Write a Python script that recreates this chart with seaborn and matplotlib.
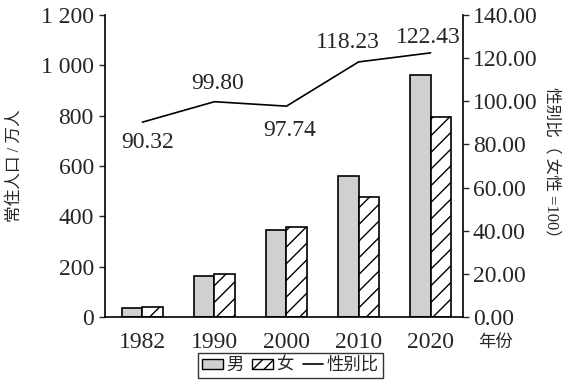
import matplotlib
matplotlib.use("Agg")
import matplotlib.pyplot as plt
import seaborn as sns
import pandas as pd
import numpy as np
from matplotlib.patches import Patch
from matplotlib.lines import Line2D

# ---- data ----
years = ["1982", "1990", "2000", "2010", "2020"]
male = [38, 162, 346, 560, 962]
female = [42, 170, 358, 478, 795]
sex_ratio = [90.32, 99.80, 97.74, 118.23, 122.43]
left_ticks = [0, 200, 400, 600, 800, 1000, 1200]
left_tick_labels = ["0", "200", "400", "600", "800", "1 000", "1 200"]
right_ticks = [0, 20, 40, 60, 80, 100, 120, 140]
right_tick_labels = ["0.00", "20.00", "40.00", "60.00", "80.00", "100.00", "120.00", "140.00"]
sex_labels = ["男", "女"]

sns.set_style("ticks")
plt.rcParams["font.family"] = ["Liberation Serif", "Noto Sans CJK SC", "DejaVu Sans"]
plt.rcParams["axes.unicode_minus"] = False
plt.rcParams["hatch.linewidth"] = 1.0

df = pd.DataFrame({
    "year": years * 2,
    "pop": male + female,
    "sex": [sex_labels[0]] * len(years) + [sex_labels[1]] * len(years),
})

fig = plt.figure(figsize=(5.64, 3.83), dpi=100)
ax = fig.add_axes([0.186, 0.172, 0.635, 0.789])

sns.barplot(data=df, x="year", y="pop", hue="sex", order=years, hue_order=sex_labels,
            palette=["#d0d0d0", "white"], width=0.57, gap=0, dodge=True,
            edgecolor="black", linewidth=1.2, legend=False, ax=ax)

for patch in ax.containers[1]:
    patch.set_hatch("//")
    patch.set_facecolor("white")

ax.set_ylim(0, 1200)
ax.set_xlim(-0.52, 4.45)
ax.set_yticks(left_ticks)
ax.set_yticklabels(left_tick_labels)
ax.set_xlabel("")
ax.set_ylabel("常住人口 / 万人", fontsize=12, labelpad=13)
ax.tick_params(axis="y", length=4, width=1, labelsize=17, pad=4, direction="out")
ax.tick_params(axis="x", length=0, labelsize=17, pad=11)
for s in ["left", "bottom"]:
    ax.spines[s].set_linewidth(1.2)
    ax.spines[s].set_color("black")
ax.spines["top"].set_visible(False)
ax.spines["right"].set_visible(False)

ax2 = ax.twinx()
xpos = np.arange(len(years))
sns.lineplot(x=xpos, y=sex_ratio, color="black", linewidth=1.2, ax=ax2)
ax2.set_ylim(0, 140)
ax2.set_xlim(-0.52, 4.45)
ax2.set_yticks(right_ticks)
ax2.set_yticklabels(right_tick_labels)
ax2.tick_params(axis="y", length=4, width=1, labelsize=17, pad=3, direction="out")
ax2.set_ylabel("性别比（ 女性 =100）", fontsize=12, rotation=270, labelpad=16)
ax2.spines["right"].set_linewidth(1.2)
ax2.spines["right"].set_color("black")
for s in ["top", "left", "bottom"]:
    ax2.spines[s].set_visible(False)

label_offsets = [(5, -20), (3, 18), (3, -24), (-11, 19), (-2, 15)]
for xi, v, off in zip(xpos, sex_ratio, label_offsets):
    ax2.annotate(f"{v:.2f}", (xi, v), xytext=off, textcoords="offset pixels",
                 ha="center", va="center", fontsize=17)

fig.text(0.847, 0.104, "年份", fontsize=12.5, ha="left", va="center")

handles = [
    Patch(facecolor="#d0d0d0", edgecolor="black", linewidth=1.0),
    Patch(facecolor="white", edgecolor="black", hatch="///", linewidth=1.0),
    Line2D([0], [0], color="black", linewidth=1.2),
]
leg = fig.legend(handles, ["男", "女", "性别比"], loc="center", bbox_to_anchor=(0.515, 0.045),
                 ncol=3, frameon=True, fancybox=False, fontsize=12.5, handlelength=1.2,
                 handleheight=0.55, handletextpad=0.2, columnspacing=0.5, borderpad=0.25,
                 borderaxespad=0)
leg.get_frame().set_edgecolor("black")
leg.get_frame().set_linewidth(1.0)

fig.savefig("out.png", dpi=100)
